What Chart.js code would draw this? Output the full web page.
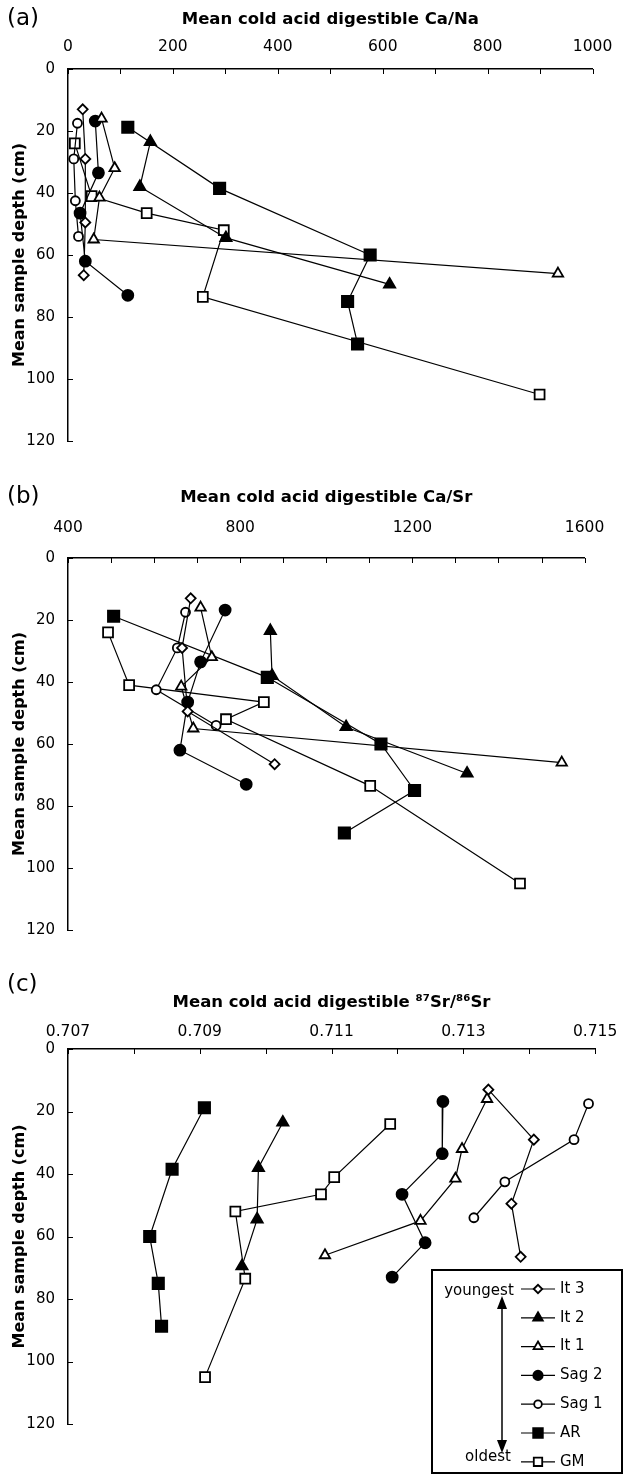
<!DOCTYPE html>
<html><head><meta charset="utf-8">
<script src="https://cdn.jsdelivr.net/npm/chart.js@4.4.0/dist/chart.umd.min.js"></script>
<style>
html,body{margin:0;padding:0;background:#fff;}
body{width:625px;height:1476px;position:relative;overflow:hidden;}
canvas{position:absolute;left:0;}
</style></head><body>
<canvas id="ca" width="625" height="475" style="top:0px"></canvas>
<canvas id="cb" width="625" height="480" style="top:480px"></canvas>
<canvas id="cc" width="625" height="511" style="top:965px"></canvas>
<script>
// ---------- DATA ----------
const sites = ['It 3', 'It 2', 'It 1', 'Sag 2', 'Sag 1', 'AR', 'GM'];

// mean sample depth (cm) per site
const depthIt3  = [13, 29, 49.5, 66.5];
const depthIt2  = [23.5, 38, 54.5, 69.5];
const depthIt1  = [16, 32, 41.5, 55, 66];
const depthSag2 = [16.8, 33.5, 46.5, 62, 73];
const depthSag1 = [17.5, 29, 42.5, 54];
const depthAR   = [18.8, 38.5, 60, 75, 88.7];
const depthGM   = [24, 41, 46.5, 52, 73.5, 105];

// (a) Ca/Na
const caNaIt3  = [28, 33, 33, 30];
const caNaIt2  = [157, 137, 301, 613];
const caNaIt1  = [64, 89, 60, 49, 934];
const caNaSag2 = [52, 58, 23, 33, 114];
const caNaSag1 = [18, 11, 14, 20];
const caNaAR   = [114, 289, 576, 533, 552];
const caNaGM   = [13, 45, 150, 297, 257, 899];

// (b) Ca/Sr
const caSrIt3  = [685, 665, 678, 880];
const caSrIt2  = [870, 874, 1046, 1327];
const caSrIt1  = [708, 734, 663, 691, 1547];
const caSrSag2 = [765, 708, 678, 660, 814];
const caSrSag1 = [673, 654, 605, 744];
const caSrAR   = [506, 863, 1127, 1205, 1042];
const caSrGM   = [493, 542, 855, 767, 1102, 1450];

// (c) 87Sr/86Sr
const srIt3  = [0.71338, 0.71407, 0.71373, 0.71387];
const srIt2  = [0.71026, 0.70989, 0.70987, 0.70964];
const srIt1  = [0.71336, 0.71298, 0.71288, 0.71235, 0.71090];
const srSag2 = [0.71269, 0.71268, 0.71207, 0.71242, 0.71192];
const srSag1 = [0.71490, 0.71468, 0.71363, 0.71316];
const srAR   = [0.70907, 0.70858, 0.70824, 0.70837, 0.70842];
const srGM   = [0.71189, 0.71104, 0.71084, 0.70954, 0.70969, 0.70908];

// tick labels
const yTicks   = [0, 20, 40, 60, 80, 100, 120];
const xTicksA  = [0, 200, 400, 600, 800, 1000];
const xMinorA  = [0, 100, 200, 300, 400, 500, 600, 700, 800, 900, 1000];
const xTicksB  = [400, 800, 1200, 1600];
const xMinorB  = [400, 500, 600, 700, 800, 900, 1000, 1100, 1200, 1300, 1400, 1500, 1600];
const xTicksC  = [0.707, 0.709, 0.711, 0.713, 0.715];
const xMinorC  = [0.707, 0.708, 0.709, 0.710, 0.711, 0.712, 0.713, 0.714, 0.715];

const depths = [depthIt3, depthIt2, depthIt1, depthSag2, depthSag1, depthAR, depthGM];
const valsA = [caNaIt3, caNaIt2, caNaIt1, caNaSag2, caNaSag1, caNaAR, caNaGM];
const valsB = [caSrIt3, caSrIt2, caSrIt1, caSrSag2, caSrSag1, caSrAR, caSrGM];
const valsC = [srIt3, srIt2, srIt1, srSag2, srSag1, srAR, srGM];

// ---------- STYLES ----------
const FONT = "'DejaVu Sans', Verdana, sans-serif";
Chart.defaults.font.family = FONT;
Chart.defaults.color = '#000';

const markerStyles = [
  {pointStyle: 'rectRot',  radius: 5,   filled: false},
  {pointStyle: 'triangle', radius: 6.5, filled: true},
  {pointStyle: 'triangle', radius: 6,   filled: false},
  {pointStyle: 'circle',   radius: 5.5, filled: true},
  {pointStyle: 'circle',   radius: 4.5, filled: false},
  {pointStyle: 'rect',     radius: 8,   filled: true},
  {pointStyle: 'rect',     radius: 7,   filled: false}
];

function buildDatasets(vals) {
  return sites.map((name, i) => {
    const m = markerStyles[i];
    return {
      label: name,
      data: depths[i].map((d, k) => ({x: vals[i][k], y: d})),
      showLine: true,
      borderColor: '#000',
      borderWidth: 1.2,
      pointStyle: m.pointStyle,
      pointRadius: m.radius,
      pointHoverRadius: m.radius,
      pointBackgroundColor: m.filled ? '#000' : '#fff',
      pointBorderColor: '#000',
      pointBorderWidth: 1.8,
      tension: 0,
      clip: false
    };
  });
}

// inner tick marks drawn at scale positions
const innerTicks = {
  id: 'innerTicks',
  afterDatasetsDraw(chart, args, o) {
    const {ctx, chartArea, scales} = chart;
    ctx.save();
    ctx.strokeStyle = '#000';
    ctx.lineWidth = 1;
    (o.x || []).forEach(v => {
      const px = Math.round(scales.x.getPixelForValue(v)) + 0.5;
      ctx.beginPath(); ctx.moveTo(px, chartArea.top); ctx.lineTo(px, chartArea.top + o.len); ctx.stroke();
    });
    (o.y || []).forEach(v => {
      const py = Math.round(scales.y.getPixelForValue(v)) + 0.5;
      ctx.beginPath(); ctx.moveTo(chartArea.left, py); ctx.lineTo(chartArea.left + o.len, py); ctx.stroke();
    });
    ctx.restore();
  }
};

const panelLabel = {
  id: 'panelLabel',
  afterDraw(chart, args, o) {
    if (!o.text) return;
    const ctx = chart.ctx;
    ctx.save();
    ctx.font = o.size + 'px ' + FONT;
    ctx.fillStyle = '#000';
    ctx.textBaseline = 'middle';
    ctx.textAlign = 'left';
    ctx.fillText(o.text, o.x, o.y);
    ctx.restore();
  }
};

const ageLegend = {
  id: 'ageLegend',
  afterDraw(chart, args, o) {
    if (!o.show) return;
    const ctx = chart.ctx;
    ctx.save();
    ctx.fillStyle = '#fff';
    ctx.fillRect(o.left, o.top, o.right - o.left, o.bottom - o.top);
    ctx.strokeStyle = '#000';
    ctx.lineWidth = 2;
    ctx.strokeRect(o.left, o.top, o.right - o.left, o.bottom - o.top);
    ctx.font = o.fontSize + 'px ' + FONT;
    ctx.textBaseline = 'middle';
    chart.data.datasets.forEach((ds, i) => {
      const y = o.firstRow + i * o.rowGap;
      ctx.strokeStyle = '#000';
      ctx.lineWidth = 1.2;
      ctx.beginPath(); ctx.moveTo(o.lineX1, y); ctx.lineTo(o.lineX2, y); ctx.stroke();
      ctx.fillStyle = ds.pointBackgroundColor;
      ctx.lineWidth = ds.pointBorderWidth;
      Chart.helpers.drawPoint(ctx, {pointStyle: ds.pointStyle, radius: ds.pointRadius * o.markerScale, borderWidth: ds.pointBorderWidth, rotation: 0}, (o.lineX1 + o.lineX2) / 2, y);
      ctx.fillStyle = '#000';
      ctx.textAlign = 'left';
      ctx.fillText(ds.label, o.textX, y);
    });
    ctx.textAlign = 'center';
    ctx.fillText(o.topText, o.topTextX, o.topTextY);
    ctx.fillText(o.bottomText, o.bottomTextX, o.bottomTextY);
    // double-headed arrow
    ctx.strokeStyle = '#000';
    ctx.lineWidth = 1.5;
    ctx.beginPath(); ctx.moveTo(o.arrowX, o.arrowY1 + 8); ctx.lineTo(o.arrowX, o.arrowY2 - 8); ctx.stroke();
    ctx.fillStyle = '#000';
    ctx.beginPath(); ctx.moveTo(o.arrowX, o.arrowY1); ctx.lineTo(o.arrowX - 5, o.arrowY1 + 13); ctx.lineTo(o.arrowX + 5, o.arrowY1 + 13); ctx.closePath(); ctx.fill();
    ctx.beginPath(); ctx.moveTo(o.arrowX, o.arrowY2); ctx.lineTo(o.arrowX - 5, o.arrowY2 - 13); ctx.lineTo(o.arrowX + 5, o.arrowY2 - 13); ctx.closePath(); ctx.fill();
    ctx.restore();
  }
};

const TICK_X = 15.5, TICK_Y = 15, TITLE = 16.5;

function makePanel(id, cfg) {
  const canvas = document.getElementById(id);
  const H = canvas.height;
  return new Chart(canvas, {
    type: 'scatter',
    data: {datasets: buildDatasets(cfg.vals)},
    options: {
      responsive: false,
      animation: false,
      devicePixelRatio: 1,
      events: [],
      layout: {padding: {left: 0, top: 0, right: 27, bottom: H - cfg.plotBottom}},
      plugins: {
        legend: {display: false},
        tooltip: {enabled: false},
        innerTicks: {x: cfg.minor, y: yTicks, len: 5},
        panelLabel: {text: cfg.label, x: 7, y: cfg.labelY, size: 23},
        ageLegend: cfg.legend || {show: false}
      },
      scales: {
        x: {
          type: 'linear',
          position: 'top',
          min: cfg.min, max: cfg.max,
          afterBuildTicks: s => { s.ticks = cfg.ticks.map(v => ({value: v})); },
          afterFit: s => { s.height = cfg.plotTop; },
          grid: {display: false, drawTicks: false},
          border: {display: true, color: '#000', width: 1.5},
          ticks: {
            font: {size: TICK_X},
            color: '#000',
            padding: cfg.plotTop - cfg.tickY - TICK_X * 0.6,
            maxRotation: 0,
            autoSkip: false,
            callback: v => cfg.fmt(v)
          },
          title: {
            display: true,
            text: cfg.title,
            font: {size: TITLE, weight: 'bold', lineHeight: 1.2},
            color: '#000',
            padding: {top: cfg.titleY - TITLE * 0.6, bottom: 0}
          }
        },
        y: {
          type: 'linear',
          reverse: true,
          min: 0, max: 120,
          afterBuildTicks: s => { s.ticks = yTicks.map(v => ({value: v})); },
          afterFit: s => { s.width = 68; },
          grid: {display: false, drawTicks: false},
          border: {display: true, color: '#000', width: 1.5},
          ticks: {font: {size: TICK_Y}, color: '#000', padding: 13, autoSkip: false},
          title: {
            display: true,
            text: 'Mean sample depth (cm)',
            font: {size: 16, weight: 'bold', lineHeight: 1.2},
            color: '#000',
            padding: {top: 10, bottom: 0}
          }
        }
      }
    },
    plugins: [innerTicks, panelLabel, ageLegend]
  });
}

makePanel('ca', {
  vals: valsA, min: 0, max: 1000, ticks: xTicksA, minor: xMinorA,
  fmt: v => String(v),
  title: 'Mean cold acid digestible Ca/Na',
  label: '(a)', labelY: 19,
  plotTop: 69, plotBottom: 441, tickY: 47, titleY: 20
});

makePanel('cb', {
  vals: valsB, min: 400, max: 1600, ticks: xTicksB, minor: xMinorB,
  fmt: v => String(v),
  title: 'Mean cold acid digestible Ca/Sr',
  label: '(b)', labelY: 17,
  plotTop: 78, plotBottom: 450, tickY: 48, titleY: 18
});

makePanel('cc', {
  vals: valsC, min: 0.707, max: 0.715, ticks: xTicksC, minor: xMinorC,
  fmt: v => v.toFixed(3),
  title: 'Mean cold acid digestible \u2078\u2077Sr/\u2078\u2076Sr',
  label: '(c)', labelY: 20,
  plotTop: 84, plotBottom: 459, tickY: 67, titleY: 38,
  legend: {
    show: true,
    left: 432, top: 305, right: 622, bottom: 508,
    firstRow: 324, rowGap: 28.8,
    lineX1: 521, lineX2: 555, textX: 560,
    markerScale: 0.85, fontSize: 15,
    topText: 'youngest', topTextX: 479, topTextY: 326,
    bottomText: 'oldest', bottomTextX: 488, bottomTextY: 492,
    arrowX: 502, arrowY1: 331, arrowY2: 488
  }
});
</script>
</body></html>
